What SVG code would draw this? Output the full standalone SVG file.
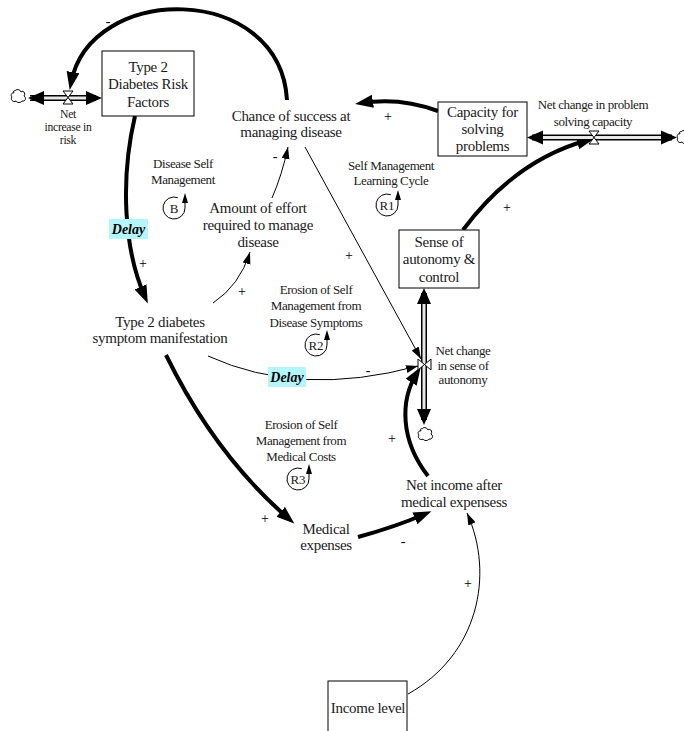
<svg xmlns="http://www.w3.org/2000/svg" width="684" height="731" viewBox="0 0 684 731" font-family="'Liberation Serif', 'DejaVu Serif', serif">
<style>
text { fill: #1a1a1a; text-anchor: middle; }
.n { font-size: 15px; letter-spacing: -0.3px; }
.s { font-size: 13px; letter-spacing: -0.4px; }
.f { font-size: 11.7px; letter-spacing: -0.3px; }
.sg { font-size: 14px; fill: #000; }
.lp { font-size: 13px; }
.dl { font-size: 14px; font-weight: bold; font-style: italic; fill: #000; }
.box { fill: #fff; stroke: #000; stroke-width: 1; }
.thick { fill: none; stroke: #000; stroke-width: 4; marker-end: url(#ah); }
.thin { fill: none; stroke: #000; stroke-width: 1; marker-end: url(#at); }
.pipeo { stroke: #000; stroke-width: 6; fill: none; }
.pipei { stroke: #e8e8e8; stroke-width: 3; fill: none; }
.valve { fill: #fff; stroke: #000; stroke-width: 1; }
.cloud { fill: #fff; stroke: #000; stroke-width: 1; }
.delay { fill: #b5f6fc; }
.loop { fill: none; stroke: #000; stroke-width: 1; }
</style>
<defs>
<marker id="ah" markerUnits="userSpaceOnUse" markerWidth="20" markerHeight="14" refX="11" refY="6.5" orient="auto"><path d="M0,0 L18,6.5 L0,13 Z" fill="#000"/></marker>
<marker id="at" markerUnits="userSpaceOnUse" markerWidth="13" markerHeight="9" refX="12" refY="4" orient="auto"><path d="M0,0 L12,4 L0,8 Z" fill="#000"/></marker>
<path id="fh" d="M0,0 L-16,-7 L-16,7 Z" fill="#000"/>
<path id="cl" class="cloud" d="M4,4 C2,3 0,6 2,8 C0,10 3,14 6,12 C7,14 11,14 12,12 C15,13 17,9 14,7 C16,4 13,1 11,3 C10,0 6,0 5,2 C4,1 3,2 4,4 Z"/>
<path id="lpi" class="loop" d="M3.8,-10.3 A11,11 0 1 0 11,0 L11,-5"/>
<path id="lph" d="M11,-15 L8,-5 L14,-5 Z" fill="#000"/>
</defs>

<g id="connectors">
<path class="thick" d="M287,100 C280,-18 90,-18 71,83"/>
<path class="thick" d="M438,111 Q400,97 362,103"/>
<path class="thick" d="M463,230 Q515,160 588,140"/>
<path class="thick" d="M135,116 C120,180 124,250 145,297"/>
<path class="thin" d="M213,303 Q240,285 250,252"/>
<path class="thin" d="M272,198 Q282,175 288,147"/>
<path class="thin" d="M305,147 L421,359"/>
<path class="thin" d="M208,356 Q300,398 418,366"/>
<path class="thick" d="M166,355 Q215,455 289,519"/>
<path class="thick" d="M358,537 Q395,527 425,514"/>
<path class="thick" d="M428,476 C400,440 400,400 417,373"/>
<path class="thin" d="M408,694 C478,655 495,575 467,513"/>
</g>

<g id="delay-labels">
<rect class="delay" x="109" y="219" width="39" height="20"/>
<text class="dl" x="128.5" y="234" font-family="'Liberation Serif', serif">Delay</text>
<rect class="delay" x="268" y="367" width="38" height="20"/>
<text class="dl" x="287" y="382" font-family="'Liberation Serif', serif">Delay</text>
</g>

<g id="flow-risk">
<use href="#cl" x="10" y="89"/>
<path class="pipeo" d="M30,98 L96,98"/>
<path class="pipei" d="M30,98 L96,98"/>
<use href="#fh" transform="translate(28,98) rotate(180)"/>
<use href="#fh" transform="translate(102,98)"/>
<path class="valve" d="M63,91 L73,91 L63,104 L73,104 Z"/>
<text class="f" x="68" y="118">Net</text>
<text class="f" x="68" y="131">increase in</text>
<text class="f" x="68" y="144">risk</text>
</g>

<g id="flow-capacity">
<use href="#cl" x="676" y="130"/>
<path class="pipeo" d="M532,137.5 L672,137.5"/>
<path class="pipei" d="M532,137.5 L672,137.5"/>
<use href="#fh" transform="translate(527,137.5) rotate(180)"/>
<use href="#fh" transform="translate(677,137.5)"/>
<path class="valve" d="M589,131 L599,131 L589,144 L599,144 Z"/>
<text class="s" x="593" y="109">Net change in problem</text>
<text class="s" x="593" y="126">solving capacity</text>
</g>

<g id="flow-autonomy">
<use href="#cl" x="417" y="427"/>
<path class="pipeo" d="M424,293 L424,420"/>
<path class="pipei" d="M424,293 L424,420"/>
<use href="#fh" transform="translate(424,288) rotate(-90)"/>
<use href="#fh" transform="translate(424,425) rotate(90)"/>
<path class="valve" d="M418,359 L418,370 L431,359 L431,370 Z"/>
<text class="s" x="463" y="355">Net change</text>
<text class="s" x="463" y="370">in sense of</text>
<text class="s" x="463" y="384">autonomy</text>
</g>

<g id="risk-factors">
<rect class="box" x="102" y="51" width="92" height="65"/>
<text class="n" x="148" y="72">Type 2</text>
<text class="n" x="148" y="89">Diabetes Risk</text>
<text class="n" x="148" y="107">Factors</text>
</g>

<g id="capacity">
<rect class="box" x="438" y="102" width="89" height="54"/>
<text class="n" x="482.5" y="117">Capacity for</text>
<text class="n" x="482.5" y="134">solving</text>
<text class="n" x="482.5" y="151">problems</text>
</g>

<g id="autonomy">
<rect class="box" x="399" y="230" width="80" height="58"/>
<text class="n" x="439" y="247">Sense of</text>
<text class="n" x="439" y="264">autonomy &amp;</text>
<text class="n" x="439" y="282">control</text>
</g>

<g id="income-level">
<rect class="box" x="328" y="681" width="79" height="60"/>
<text class="n" x="368" y="713">Income level</text>
</g>

<g id="chance">
<text class="n" x="291" y="121">Chance of success at</text>
<text class="n" x="291" y="137">managing disease</text>
</g>

<g id="effort">
<text class="n" x="258" y="213">Amount of effort</text>
<text class="n" x="258" y="230">required to manage</text>
<text class="n" x="258" y="247">disease</text>
</g>

<g id="symptoms">
<text class="n" x="160" y="327">Type 2 diabetes</text>
<text class="n" x="160" y="343">symptom manifestation</text>
</g>

<g id="medical">
<text class="n" x="326" y="534">Medical</text>
<text class="n" x="326" y="550">expenses</text>
</g>

<g id="net-income">
<text class="n" x="454" y="490">Net income after</text>
<text class="n" x="454" y="507">medical expensess</text>
</g>

<g id="loop-b">
<text class="s" x="183" y="168">Disease Self</text>
<text class="s" x="183" y="184">Management</text>
<use href="#lpi" transform="translate(174,208)"/>
<use href="#lph" transform="translate(174,208)"/>
<text class="lp" x="174" y="212.5">B</text>
</g>

<g id="loop-r1">
<text class="s" x="391" y="170">Self Management</text>
<text class="s" x="391" y="185">Learning Cycle</text>
<use href="#lpi" transform="translate(387,205)"/>
<use href="#lph" transform="translate(387,205)"/>
<text class="lp" x="387" y="209.5">R1</text>
</g>

<g id="loop-r2">
<text class="s" x="316" y="294">Erosion of Self</text>
<text class="s" x="316" y="310">Management from</text>
<text class="s" x="316" y="327">Disease Symptoms</text>
<use href="#lpi" transform="translate(316,345)"/>
<use href="#lph" transform="translate(316,345)"/>
<text class="lp" x="316" y="349.5">R2</text>
</g>

<g id="loop-r3">
<text class="s" x="301" y="429">Erosion of Self</text>
<text class="s" x="301" y="445">Management from</text>
<text class="s" x="301" y="461">Medical Costs</text>
<use href="#lpi" transform="translate(298,479)"/>
<use href="#lph" transform="translate(298,479)"/>
<text class="lp" x="298" y="483.5">R3</text>
</g>

<g id="polarities">
<text class="sg" x="108" y="26">-</text>
<text class="sg" x="388" y="121">+</text>
<text class="sg" x="507" y="212">+</text>
<text class="sg" x="275" y="161">-</text>
<text class="sg" x="349" y="260">+</text>
<text class="sg" x="143" y="268">+</text>
<text class="sg" x="242" y="296">+</text>
<text class="sg" x="368" y="375">-</text>
<text class="sg" x="392" y="443">+</text>
<text class="sg" x="265" y="523">+</text>
<text class="sg" x="403" y="546">-</text>
<text class="sg" x="468" y="588">+</text>
</g>
</svg>
